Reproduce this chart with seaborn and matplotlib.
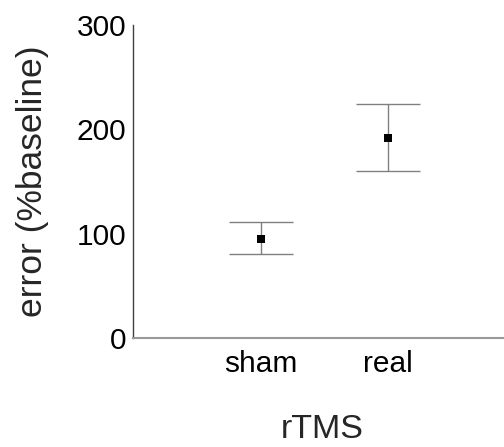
import matplotlib
matplotlib.use('Agg')
import matplotlib.pyplot as plt
import seaborn as sns
import numpy as np

# data
groups = ['sham', 'real']
means = [95, 192]
upper = [111, 224]
lower = [80, 160]
y_ticks = [0, 100, 200, 300]

sns.set_style('white')
plt.rcParams['font.family'] = ['Liberation Sans', 'DejaVu Sans']

fig = plt.figure(figsize=(5.04, 4.47), dpi=100)
ax = fig.add_axes([0.264, 0.244, 0.736, 0.7])

pos = np.arange(len(groups))
err = [np.array(means) - np.array(lower), np.array(upper) - np.array(means)]
ax.errorbar(pos, means, yerr=err, fmt='none', ecolor='#808080', elinewidth=1.0,
            capsize=23, capthick=1.0, zorder=1)
sns.scatterplot(x=pos, y=means, marker='s', color='black', s=38, linewidth=0,
                ax=ax, zorder=3)

ax.set_xlim(-1.01, 1.92)
ax.set_ylim(0, 300)
ax.set_xticks(pos)
ax.set_xticklabels(groups)
ax.set_yticks(y_ticks)

ax.tick_params(axis='both', labelsize=21.5, colors='black')
ax.tick_params(axis='y', direction='out', length=4, width=1, color='#404040', pad=1)
ax.tick_params(axis='x', direction='inout', length=5, width=1, color='#909090', pad=6)

for s in ['top', 'right']:
    ax.spines[s].set_visible(False)
ax.spines['left'].set_color('#404040')
ax.spines['left'].set_linewidth(1.0)
ax.spines['bottom'].set_color('#999999')
ax.spines['bottom'].set_linewidth(1.5)

ax.set_xlabel('rTMS', fontsize=24.5, va='top')
ax.xaxis.set_label_coords(0.51, -0.243)
ax.set_ylabel('error (%baseline)', fontsize=25.5, va='center')
ax.yaxis.set_label_coords(-0.272, 0.5)

fig.savefig('out.png', dpi=100)
